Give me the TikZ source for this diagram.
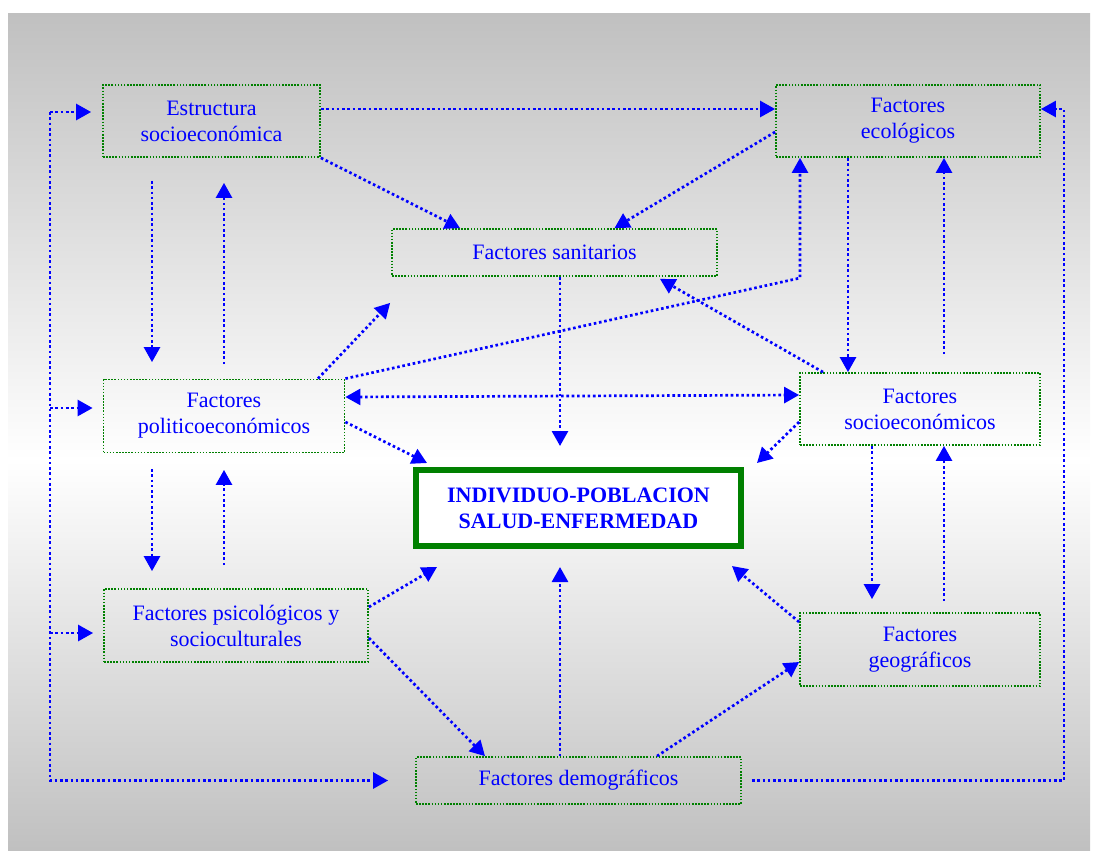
\documentclass[tikz,border=0pt]{standalone}
\usepackage{fontspec}
\setmainfont{Liberation Serif}
\usepackage{xcolor}
\usepackage{tikz}
\usetikzlibrary{arrows.meta,positioning}
\definecolor{factorgreen}{RGB}{0,128,0}
\definecolor{factorblue}{RGB}{0,0,255}
\definecolor{paneltop}{RGB}{192,192,192}
\tikzset{
  factorbox/.style={
    draw=factorgreen,
    line width=1.8pt,
    dash pattern=on 1.6pt off 1.5pt,
    align=center,
    inner sep=0pt,
    text=factorblue,
    font=\fontsize{22}{26}\selectfont
  },
  factorcentral/.style={
    draw=factorgreen,
    fill=white,
    line width=6pt,
    align=center,
    inner sep=0pt,
    text=factorblue,
    font=\fontsize{22}{26}\selectfont\bfseries
  },
  factorlink/.style={draw=factorblue, line width=2.7pt, dash pattern=on 2.6pt off 2.7pt},
  factorarrow/.style={factorlink, -{Triangle[length=15pt,width=16pt]}},
  factorboth/.style={factorlink, {Triangle[length=15pt,width=16pt]}-{Triangle[length=15pt,width=16pt]}}
}
\begin{document}
\begin{tikzpicture}[x=1pt,y=-1pt]
    \useasboundingbox (0,0) rectangle (1099,852);
    \shade[top color=paneltop, bottom color=white] (8,13) rectangle (1090,460);
    \shade[top color=white, bottom color=paneltop] (8,460) rectangle (1090,850);

    \node[factorbox, minimum width=217pt, minimum height=72pt] (estr) at (211.5,121) {Estructura\\socioeconómica};
    \node[factorbox, minimum width=264pt, minimum height=72pt] (eco) at (908,121) {Factores\\ecológicos};
    \node[factorbox, minimum width=325pt, minimum height=47pt] (sani) at (554.5,252.5) {Factores sanitarios};
    \node[factorbox, minimum width=241pt, minimum height=73pt] (pol) at (224,416) {Factores\\politicoeconómicos};
    \node[factorbox, minimum width=240pt, minimum height=72pt] (socio) at (920,409) {Factores\\socioeconómicos};
    \node[factorcentral, minimum width=325pt, minimum height=76pt] (cent) at (578.5,508) {INDIVIDUO-POBLACION\\SALUD-ENFERMEDAD};
    \node[factorbox, minimum width=264pt, minimum height=73pt] (psico) at (236,625.5) {Factores psicológicos y\\socioculturales};
    \node[factorbox, minimum width=240pt, minimum height=73pt] (geo) at (920,649.5) {Factores\\geográficos};
    \node[factorbox, minimum width=325pt, minimum height=47pt] (demo) at (578.5,780.5) {Factores demográficos};

    \coordinate (lbtop) at (50,112);
    \coordinate (lbpol) at (50,408);
    \coordinate (lbpsico) at (50,633);
    \coordinate (rbtop) at (1064,109);
    \coordinate (ecobend) at (800,278);

    \draw[factorarrow] ([yshift=12pt]estr.east) -- ([yshift=12pt]eco.west);
    \draw[factorarrow] (estr.south east) -- ([xshift=-94.5pt]sani.north);
    \draw[factorarrow] ([yshift=-11pt]eco.west) -- ([xshift=60pt]sani.north);

    \draw[factorarrow, shorten <=23pt, shorten >=16.5pt] ([xshift=-59.5pt]estr.south) -- ([xshift=-72pt]pol.north);
    \draw[factorarrow, shorten <=14.5pt, shorten >=25pt] (pol.north) -- ([xshift=12.5pt]estr.south);
    \draw[factorarrow, shorten <=15.5pt, shorten >=17pt] ([xshift=-72pt]pol.south) -- ([xshift=-84pt]psico.north);
    \draw[factorarrow, shorten <=23pt, shorten >=16.5pt] ([xshift=-12pt]psico.north) -- (pol.south);

    \draw[factorarrow] ([xshift=-60pt]eco.south) -- ([xshift=-72pt]socio.north);
    \draw[factorarrow, shorten <=18pt] ([xshift=24pt]socio.north) -- ([xshift=36pt]eco.south);
    \draw[factorarrow, shorten >=13pt] ([xshift=-48pt]socio.south) -- ([xshift=-48pt]geo.north);
    \draw[factorarrow, shorten <=11pt] ([xshift=24pt]geo.north) -- ([xshift=24pt]socio.south);

    \draw[factorarrow] ([xshift=94pt]pol.north) -- ([xshift=-1pt,yshift=-26pt]sani.south west);
    \draw[factorarrow] (pol.north east) -- (ecobend) -- ([xshift=-108pt]eco.south);
    \draw[factorboth] ([yshift=19pt]pol.east) -- ([yshift=14pt]socio.west);
    \draw[factorarrow] ([yshift=-6pt]pol.east) -- ([xshift=14pt,yshift=4pt]cent.north west);
    \draw[factorarrow, shorten >=21pt] ([xshift=5.5pt]sani.south) -- ([xshift=-18.5pt]cent.north);
    \draw[factorarrow] ([yshift=-13pt]socio.west) -- ([xshift=13pt,yshift=4pt]cent.north east);
    \draw[factorarrow] ([xshift=-97pt]socio.north) -- ([xshift=105.5pt,yshift=-2pt]sani.south);

    \draw[factorarrow] ([yshift=18.5pt]psico.east) -- ([xshift=24pt,yshift=-18pt]cent.south west);
    \draw[factorarrow, shorten >=18pt] ([xshift=-18.5pt]demo.north) -- ([xshift=-18.5pt]cent.south);
    \draw[factorarrow] ([yshift=27.5pt]geo.west) -- ([xshift=-12pt,yshift=-17pt]cent.south east);
    \draw[factorarrow] ([yshift=-12.5pt]psico.east) -- ([xshift=-93.5pt]demo.north);
    \draw[factorarrow] ([xshift=78.5pt]demo.north) -- ([yshift=-12.5pt]geo.west);

    \draw[factorarrow, shorten >=27pt] (lbtop) |- (demo.west);
    \draw[factorarrow, shorten >=11pt] (lbtop) -- ([yshift=9pt]estr.west);
    \draw[factorarrow, shorten >=10pt] (lbpol) -- ([yshift=8pt]pol.west);
    \draw[factorarrow, shorten >=10pt] (lbpsico) -- ([yshift=-7.5pt]psico.west);
    \draw[factorarrow, shorten <=10pt] (demo.east) -| (rbtop) -- ([yshift=12pt]eco.east);
  \end{tikzpicture}
\end{document}
